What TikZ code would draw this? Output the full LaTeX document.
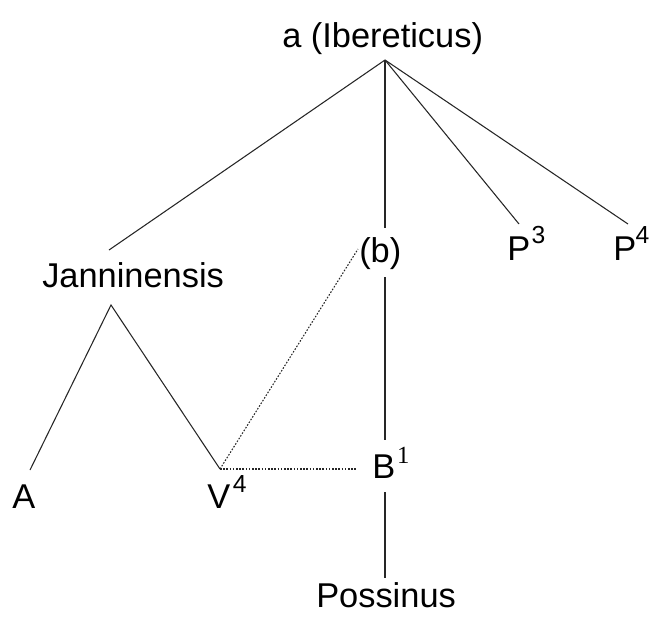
\documentclass[tikz,border=0pt]{standalone}
\usepackage{fontspec}
\setmainfont{Liberation Sans}
\newfontfamily\serifdig{Liberation Serif}
\newcommand\mysup[2]{\raisebox{#1}{\fontsize{18.5}{18.5}\selectfont #2}}
\begin{document}
\begin{tikzpicture}[x=0.75pt,y=-0.75pt,
  lbl/.style={anchor=base west,inner sep=0pt,font=\fontsize{25.8}{30}\selectfont},
  edge/.style={line width=0.8pt,black!85},
  dots/.style={line width=0.8pt,black!85,dash pattern=on 1.2pt off 1.2pt}]
\useasboundingbox (0,0) rectangle (650,619);
% labels
\node[lbl] (a)   at (282,47)  {a (Ibereticus)};
\node[lbl] (jan) at (42,287)  {Janninensis};
\node[lbl] (b)   at (359,262) {(b)};
\node[lbl] (p3)  at (507,260) {P\kern1pt\mysup{12.75pt}{3}};
\node[lbl] (p4)  at (613,260) {P\kern-0.5pt\mysup{12.75pt}{4}};
\node[lbl] (A)   at (12,508)  {A};
\node[lbl] (v4)  at (207,508) {V\kern2pt\mysup{12pt}{4}};
\node[lbl] (b1)  at (372,478) {B\kern1.5pt\mysup{11.25pt}{\serifdig 1}};
\node[lbl] (pos) at (316,607) {Possinus};
% connector end points
\coordinate (apex) at (385,60);
\coordinate (janT) at (109,250);
\coordinate (janB) at (111,305);
\coordinate (bT)   at (385,228);
\coordinate (bB)   at (385,277);
\coordinate (bL)   at (358,249);
\coordinate (p3T)  at (519,224);
\coordinate (p4T)  at (628,224);
\coordinate (Aend) at (30,470);
\coordinate (vV)   at (220,469);
\coordinate (b1L)  at (356,469);
\coordinate (b1T)  at (385,440);
\coordinate (b1B)  at (385,492);
\coordinate (posT) at (385,578);
% connectors
\draw[edge] (apex) -- (janT);
\draw[edge] (apex) -- (bT);
\draw[edge] (apex) -- (p3T);
\draw[edge] (apex) -- (p4T);
\draw[edge] (Aend) -- (janB) -- (vV);
\draw[edge] (bB) -- (b1T);
\draw[edge] (b1B) -- (posT);
\draw[dots] (vV) -- (bL);
\draw[dots] (vV) -- (b1L);
\end{tikzpicture}
\end{document}
